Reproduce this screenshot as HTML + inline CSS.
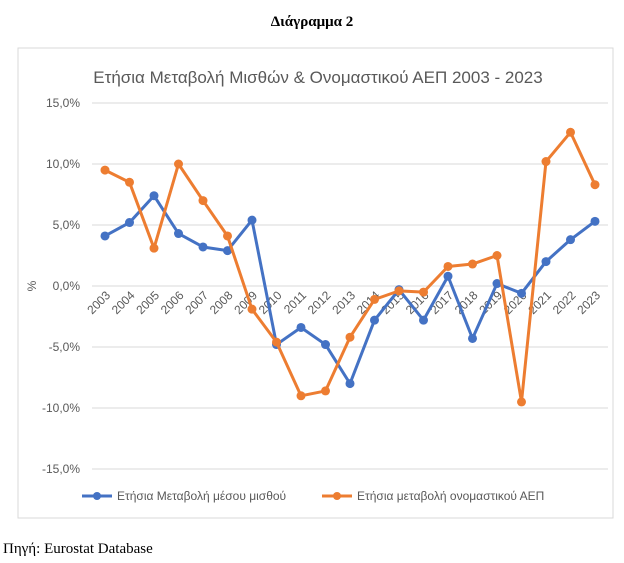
<!DOCTYPE html>
<html><head><meta charset="utf-8"><style>
body{margin:0;width:624px;height:563px;background:#fff;overflow:hidden;position:relative;font-family:"Liberation Sans",sans-serif}
.h{position:absolute;left:0;width:624px;text-align:center;top:14px;font:bold 15px "Liberation Serif",serif}
.src{position:absolute;left:3px;top:541px;font:15px "Liberation Serif",serif}
</style></head><body>
<div class="h">Διάγραμμα 2</div>
<svg id="c" width="624" height="563" style="position:absolute;left:0;top:0">
<rect x="18" y="48" width="595" height="470" fill="none" stroke="#d9d9d9"/>
<text x="318" y="83" text-anchor="middle" font-size="17" fill="#595959">Ετήσια Μεταβολή Μισθών &amp; Ονομαστικού ΑΕΠ 2003 - 2023</text>
<text transform="translate(36,286) rotate(-90)" text-anchor="middle" font-size="12" fill="#595959">%</text>
<g id="legend">
<line x1="82" y1="496" x2="112" y2="496" stroke="#4472c4" stroke-width="3"/><circle cx="97" cy="496" r="4" fill="#4472c4"/>
<text x="117" y="500" font-size="12" fill="#595959">Ετήσια Μεταβολή μέσου μισθού</text>
<line x1="322" y1="496" x2="352" y2="496" stroke="#ed7d31" stroke-width="3"/><circle cx="337" cy="496" r="4" fill="#ed7d31"/>
<text x="357" y="500" font-size="12" fill="#595959">Ετήσια μεταβολή ονομαστικού ΑΕΠ</text>
</g>
</svg>
<div class="src">Πηγή: Eurostat Database</div>
<script>
const years=["2003","2004","2005","2006","2007","2008","2009","2010","2011","2012","2013","2014","2015","2016","2017","2018","2019","2020","2021","2022","2023"];
const wages=[4.1,5.2,7.4,4.3,3.2,2.9,5.4,-4.8,-3.4,-4.8,-8.0,-2.8,-0.3,-2.8,0.8,-4.3,0.2,-0.6,2.0,3.8,5.3];
const gdp=[9.5,8.5,3.1,10.0,7.0,4.1,-1.9,-4.6,-9.0,-8.6,-4.2,-1.1,-0.4,-0.5,1.6,1.8,2.5,-9.5,10.2,12.6,8.3];
const yTicks=[15,10,5,0,-5,-10,-15];
const ns="http://www.w3.org/2000/svg",svg=document.getElementById('c');
const y=v=>286-v*12.2, x=i=>105+i*24.5;
function mk(t,a){const e=document.createElementNS(ns,t);for(const k in a)e.setAttribute(k,a[k]);svg.appendChild(e);return e;}
yTicks.forEach(t=>{
 const g=mk('line',{x1:92,x2:608,y1:y(t),y2:y(t),stroke:'#d9d9d9'});
 
 
 const l=mk('text',{x:80,y:y(t)+4,'text-anchor':'end','font-size':12,fill:'#595959'});
 l.textContent=t.toFixed(1).replace('.',',')+'%';
 
 
});
years.forEach((yr,i)=>{
 const t=mk('text',{transform:`translate(${x(i)+6},${y(0)+10}) rotate(-45)`,'text-anchor':'end','font-size':12,fill:'#595959'});
 t.textContent=yr;
 
 
});
[[wages,'#4472c4','wages'],[gdp,'#ed7d31','gdp']].forEach(([d,c,n])=>{
 const p=mk('polyline',{points:d.map((v,i)=>x(i)+','+y(v)).join(' '),fill:'none',stroke:c,'stroke-width':3,'stroke-linejoin':'round'});
 
 
 d.forEach((v,i)=>{const m=mk('circle',{cx:x(i),cy:y(v),r:4.5,fill:c});
  
  });
});
</script>
</body></html>
